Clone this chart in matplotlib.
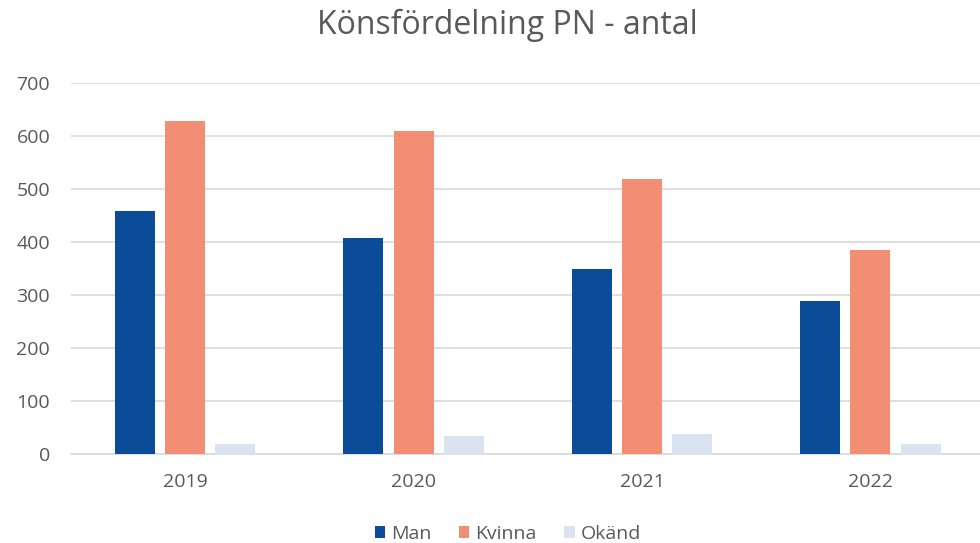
import matplotlib.pyplot as plt
import numpy as np

plt.rcParams['font.family'] = ['Open Sans', 'DejaVu Sans']

# data
years = ['2019', '2020', '2021', '2022']
man = [459, 407, 350, 289]
kvinna = [629, 610, 519, 384]
okand = [19, 34, 37, 18]

series = [('Man', man, '#0A4C97'), ('Kvinna', kvinna, '#F28E74'), ('Okänd', okand, '#DAE4F1')]

fig = plt.figure(figsize=(9.8, 5.43), dpi=100)
ax = fig.add_axes([71 / 980, 1 - 454 / 543, 1 - 71 / 980, (454 - 83) / 543])

x = np.arange(len(years))
width = 0.175
offsets = [-0.22, 0.0, 0.22]
for (name, vals, color), off in zip(series, offsets):
    ax.bar(x + off, vals, width, color=color, label=name, zorder=3)

ax.set_xlim(-0.5, 3.48)
ax.set_ylim(0, 700)
ax.set_yticks(range(0, 701, 100))
ax.set_xticks(x)
ax.set_xticklabels(years)
ax.grid(axis='y', color='#D9D9D9', linewidth=1.2, zorder=0)
for s in ['top', 'right', 'left']:
    ax.spines[s].set_visible(False)
ax.spines['bottom'].set_color('#D9D9D9')
ax.spines['bottom'].set_linewidth(1.2)
ax.tick_params(axis='both', length=0, colors='#595959', labelsize=14)
ax.tick_params(axis='x', pad=14)
ax.tick_params(axis='y', pad=15)

fig.text(0.518, 0.954, 'Könsfördelning PN - antal', ha='center', va='center',
         fontsize=23, color='#595959')

fig.legend(loc='center', bbox_to_anchor=(0.518, 0.017), ncol=3, frameon=False,
           fontsize=14, handlelength=0.55, handleheight=0.55, handletextpad=0.3,
           columnspacing=1.4, labelcolor='#595959')

fig.savefig('out.png', dpi=100)
